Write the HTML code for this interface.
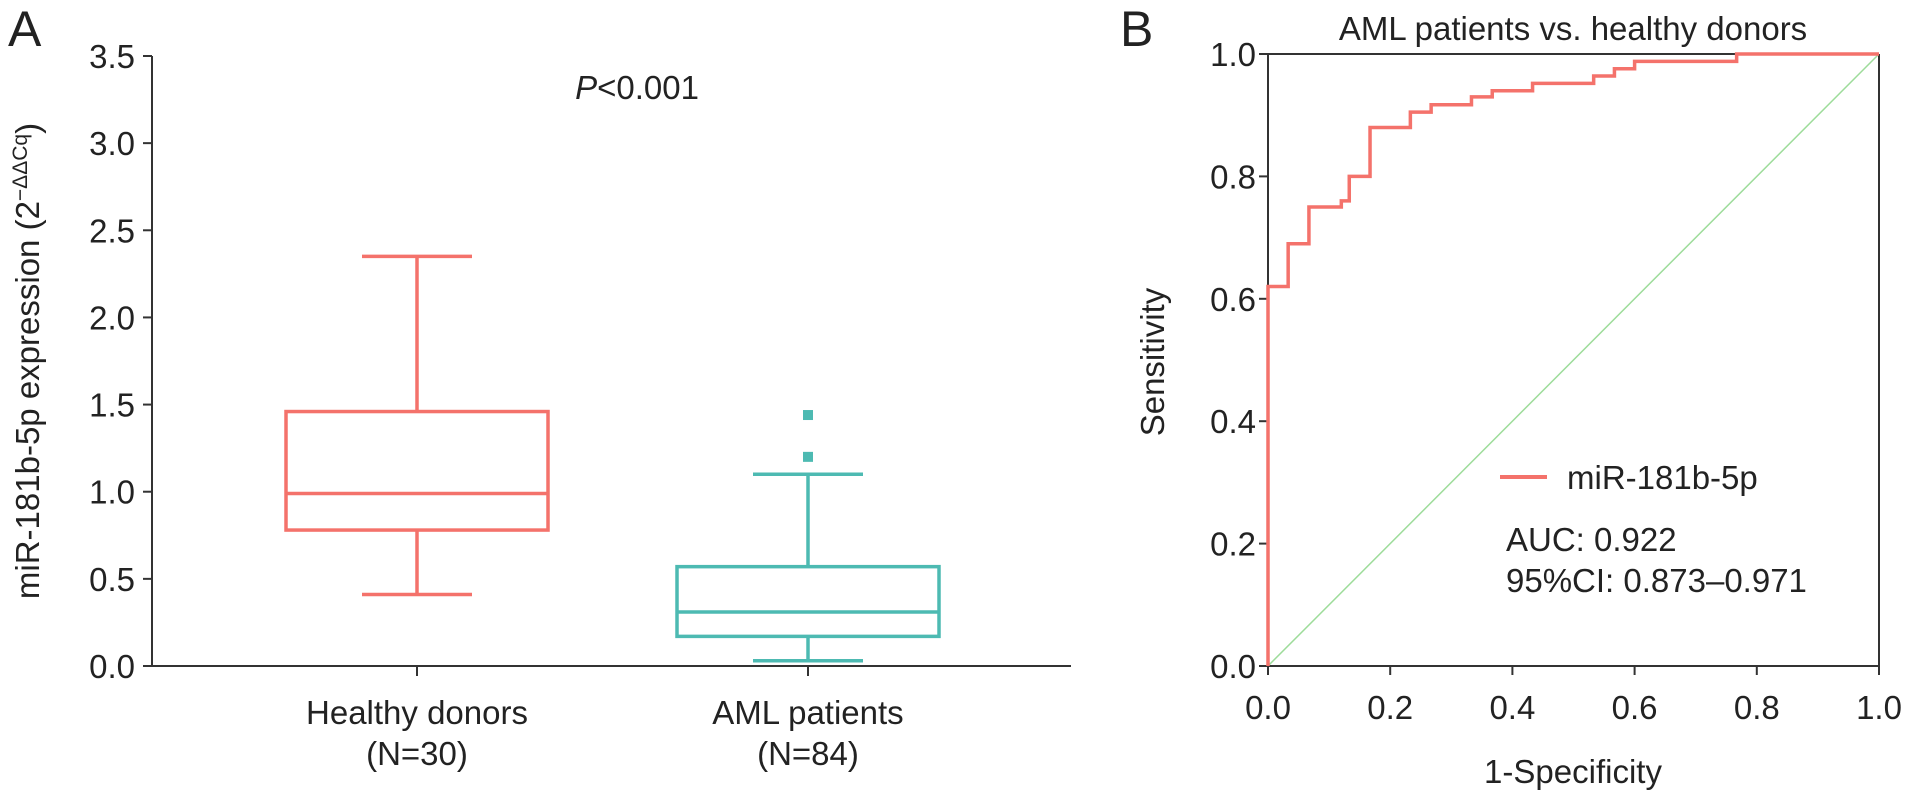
<!DOCTYPE html>
<html><head><meta charset="utf-8"><style>
body{margin:0;background:#fff}
svg text{font-family:"Liberation Sans",sans-serif;fill:#222}
</style></head><body>
<svg id="c" width="1913" height="801" xmlns="http://www.w3.org/2000/svg"></svg>
<script>
const boxCategories=["Healthy donors","AML patients"];
const boxN=["(N=30)","(N=84)"];
const boxWhiskLow=[0.41,0.03];
const boxQ1=[0.78,0.17];
const boxMedian=[0.99,0.31];
const boxQ3=[1.46,0.57];
const boxWhiskHigh=[2.35,1.10];
const boxOutliers=[[],[1.20,1.44]];
const yTicksA=[0,0.5,1.0,1.5,2.0,2.5,3.0,3.5];
const rocFpr=[0,0,0.033,0.033,0.067,0.067,0.12,0.12,0.133,0.133,0.167,0.167,0.233,0.233,0.267,0.267,0.333,0.333,0.367,0.367,0.433,0.433,0.533,0.533,0.567,0.567,0.6,0.6,0.767,0.767,1];
const rocTpr=[0,0.62,0.62,0.69,0.69,0.75,0.75,0.76,0.76,0.8,0.8,0.88,0.88,0.905,0.905,0.917,0.917,0.93,0.93,0.94,0.94,0.952,0.952,0.964,0.964,0.976,0.976,0.988,0.988,1,1];
const ticksB=[0,0.2,0.4,0.6,0.8,1.0];

const svg=document.getElementById('c');
const NS='http://www.w3.org/2000/svg';
const FS=33;
function mk(tag,attrs,name,text){const e=document.createElementNS(NS,tag);for(const k in attrs)e.setAttribute(k,attrs[k]);


if(text!==undefined)e.textContent=text;svg.appendChild(e);return e;}
const RED='#f4726b',TEAL='#4dbab2';
// Panel A
const ax0=152,ax1=1071,ay0=666,ay1=56;
const yA=v=>ay0-(v/3.5)*(ay0-ay1);
const xA=i=>[417,808][i];
mk('text',{x:8,y:46,'font-size':50},'panel-a-label','A');
mk('line',{x1:ax0,y1:ay1,x2:ax0,y2:ay0+1,stroke:'#333','stroke-width':2},'y-axis-a');
mk('line',{x1:ax0,y1:ay0,x2:ax1,y2:ay0,stroke:'#333','stroke-width':2},'x-axis-a');
yTicksA.forEach(v=>{mk('line',{x1:ax0-9,y1:yA(v),x2:ax0,y2:yA(v),stroke:'#333','stroke-width':2},'y-tick-a');
mk('text',{x:ax0-17,y:yA(v)+12,'font-size':FS,'text-anchor':'end'},'y-tick-label-a',v.toFixed(1));});
const yt=mk('text',{x:0,y:0,'font-size':FS,'text-anchor':'middle',transform:'translate(39,361) rotate(-90)'},'y-axis-title-a','miR-181b-5p expression (2');
const ts=document.createElementNS(NS,'tspan');ts.setAttribute('dy','-12');ts.setAttribute('font-size','21');ts.textContent='−ΔΔCq';yt.appendChild(ts);
const ts2=document.createElementNS(NS,'tspan');ts2.setAttribute('dy','12');ts2.textContent=')';yt.appendChild(ts2);
mk('text',{x:637,y:99,'font-size':FS,'text-anchor':'middle'},'p-value','').innerHTML='<tspan font-style="italic">P</tspan>&lt;0.001';
boxCategories.forEach((c,i)=>{const col=i?TEAL:RED,cx=xA(i),hw=131,cw=55;
mk('line',{x1:cx,y1:ay0,x2:cx,y2:ay0+10,stroke:'#333','stroke-width':2},'x-tick-a');
mk('text',{x:cx,y:724,'font-size':FS,'text-anchor':'middle'},'category-label',c);
mk('text',{x:cx,y:765,'font-size':FS,'text-anchor':'middle'},'category-n',boxN[i]);
const g={stroke:col,'stroke-width':3.5,fill:'none'};
mk('line',Object.assign({x1:cx,y1:yA(boxWhiskHigh[i]),x2:cx,y2:yA(boxQ3[i])},g),'whisker-high');
mk('line',Object.assign({x1:cx,y1:yA(boxQ1[i]),x2:cx,y2:yA(boxWhiskLow[i])},g),'whisker-low');
mk('line',Object.assign({x1:cx-cw,y1:yA(boxWhiskHigh[i]),x2:cx+cw,y2:yA(boxWhiskHigh[i])},g),'whisker-cap-high');
mk('line',Object.assign({x1:cx-cw,y1:yA(boxWhiskLow[i]),x2:cx+cw,y2:yA(boxWhiskLow[i])},g),'whisker-cap-low');
mk('rect',Object.assign({x:cx-hw,y:yA(boxQ3[i]),width:2*hw,height:yA(boxQ1[i])-yA(boxQ3[i])},g),'box');
mk('line',Object.assign({x1:cx-hw,y1:yA(boxMedian[i]),x2:cx+hw,y2:yA(boxMedian[i])},g),'median');
boxOutliers[i].forEach(o=>mk('rect',{x:cx-5,y:yA(o)-5,width:10,height:10,fill:col},'outlier'));});
// Panel B
const bx0=1268,bx1=1879,by0=666,by1=54;
const xB=v=>bx0+v*(bx1-bx0), yB=v=>by0-v*(by0-by1);
mk('text',{x:1120,y:46,'font-size':50},'panel-b-label','B');
mk('text',{x:1573,y:40,'font-size':FS,'text-anchor':'middle'},'chart-title-b','AML patients vs. healthy donors');
mk('line',{x1:xB(0),y1:yB(0),x2:xB(1),y2:yB(1),stroke:'#9ddc9a','stroke-width':1.5},'reference-diagonal');
mk('line',{x1:bx0,y1:by1,x2:bx1,y2:by1,stroke:'#333','stroke-width':2},'top-frame');
mk('line',{x1:bx1,y1:by1,x2:bx1,y2:by0,stroke:'#333','stroke-width':2},'right-frame');
mk('line',{x1:bx0,y1:by1,x2:bx0,y2:by0,stroke:'#333','stroke-width':2},'y-axis-b');
mk('line',{x1:bx0,y1:by0,x2:bx1,y2:by0,stroke:'#333','stroke-width':2},'x-axis-b');
ticksB.forEach(v=>{mk('line',{x1:bx0-9,y1:yB(v),x2:bx0,y2:yB(v),stroke:'#333','stroke-width':2},'y-tick-b');
mk('text',{x:bx0-12,y:yB(v)+12,'font-size':FS,'text-anchor':'end'},'y-tick-label-b',v.toFixed(1));
mk('line',{x1:xB(v),y1:by0,x2:xB(v),y2:by0+9,stroke:'#333','stroke-width':2},'x-tick-b');
mk('text',{x:xB(v),y:719,'font-size':FS,'text-anchor':'middle'},'x-tick-label-b',v.toFixed(1));});
mk('text',{x:1573,y:783,'font-size':FS,'text-anchor':'middle'},'x-axis-title-b','1-Specificity');
mk('text',{x:0,y:0,'font-size':FS,'text-anchor':'middle',transform:'translate(1164,362) rotate(-90)'},'y-axis-title-b','Sensitivity');
mk('polyline',{points:rocFpr.map((f,i)=>xB(f)+','+yB(rocTpr[i])).join(' '),fill:'none',stroke:RED,'stroke-width':3.5},'roc-curve');
mk('line',{x1:1500,y1:477,x2:1547,y2:477,stroke:RED,'stroke-width':4},'legend-swatch');
mk('text',{x:1567,y:489,'font-size':FS},'legend-label','miR-181b-5p');
mk('text',{x:1506,y:551,'font-size':FS},'auc-text','AUC: 0.922');
mk('text',{x:1506,y:592,'font-size':FS},'ci-text','95%CI: 0.873–0.971');
</script>
</body></html>
